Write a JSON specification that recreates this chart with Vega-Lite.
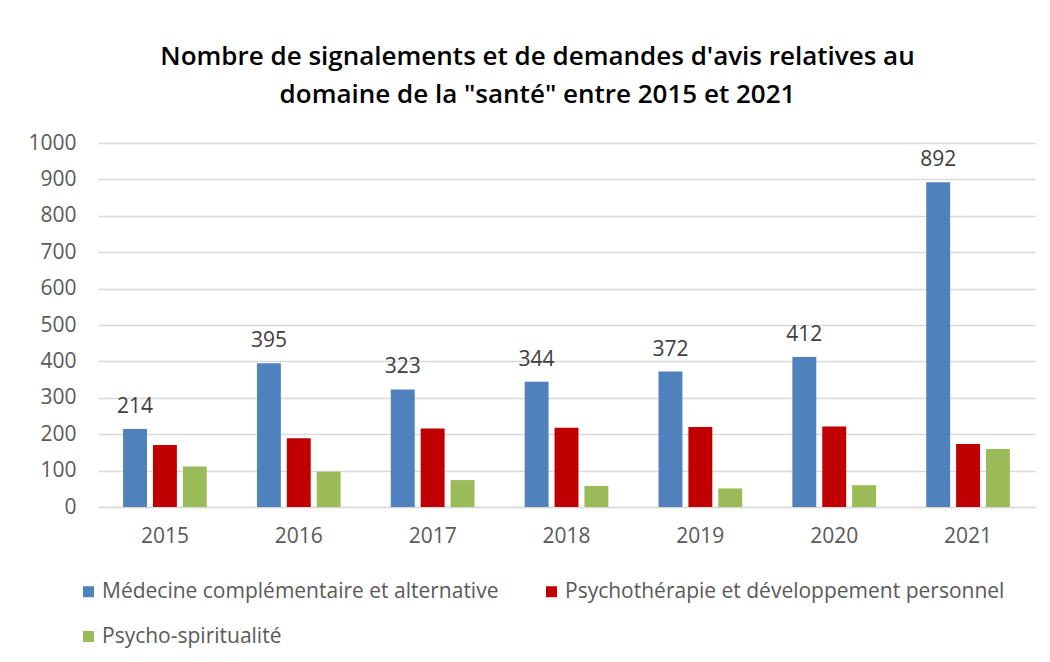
{
  "$schema": "https://vega.github.io/schema/vega-lite/v6.json",
  "width": 937,
  "height": 364,
  "autosize": "none",
  "padding": {"left": 98, "top": 143, "right": 15, "bottom": 155},
  "background": "white",
  "title": {
    "text": ["Nombre de signalements et de demandes d'avis relatives au", "domaine de la \"santé\" entre 2015 et 2021"],
    "font": "Open Sans",
    "fontSize": 26,
    "fontWeight": 600,
    "color": "#000000",
    "anchor": "middle",
    "dx": -29,
    "offset": 24,
    "lineHeight": 38
  },
  "data": {
    "values": [
      {"annee": "2015", "serie": "Médecine complémentaire et alternative", "ordre": 1, "valeur": 214},
      {"annee": "2015", "serie": "Psychothérapie et développement personnel", "ordre": 2, "valeur": 170},
      {"annee": "2015", "serie": "Psycho-spiritualité", "ordre": 3, "valeur": 111},
      {"annee": "2016", "serie": "Médecine complémentaire et alternative", "ordre": 1, "valeur": 395},
      {"annee": "2016", "serie": "Psychothérapie et développement personnel", "ordre": 2, "valeur": 189},
      {"annee": "2016", "serie": "Psycho-spiritualité", "ordre": 3, "valeur": 97},
      {"annee": "2017", "serie": "Médecine complémentaire et alternative", "ordre": 1, "valeur": 323},
      {"annee": "2017", "serie": "Psychothérapie et développement personnel", "ordre": 2, "valeur": 216},
      {"annee": "2017", "serie": "Psycho-spiritualité", "ordre": 3, "valeur": 74},
      {"annee": "2018", "serie": "Médecine complémentaire et alternative", "ordre": 1, "valeur": 344},
      {"annee": "2018", "serie": "Psychothérapie et développement personnel", "ordre": 2, "valeur": 218},
      {"annee": "2018", "serie": "Psycho-spiritualité", "ordre": 3, "valeur": 58},
      {"annee": "2019", "serie": "Médecine complémentaire et alternative", "ordre": 1, "valeur": 372},
      {"annee": "2019", "serie": "Psychothérapie et développement personnel", "ordre": 2, "valeur": 220},
      {"annee": "2019", "serie": "Psycho-spiritualité", "ordre": 3, "valeur": 51},
      {"annee": "2020", "serie": "Médecine complémentaire et alternative", "ordre": 1, "valeur": 412},
      {"annee": "2020", "serie": "Psychothérapie et développement personnel", "ordre": 2, "valeur": 221},
      {"annee": "2020", "serie": "Psycho-spiritualité", "ordre": 3, "valeur": 60},
      {"annee": "2021", "serie": "Médecine complémentaire et alternative", "ordre": 1, "valeur": 892},
      {"annee": "2021", "serie": "Psychothérapie et développement personnel", "ordre": 2, "valeur": 173},
      {"annee": "2021", "serie": "Psycho-spiritualité", "ordre": 3, "valeur": 159}
    ]
  },
  "encoding": {
    "x": {
      "field": "annee",
      "type": "nominal",
      "scale": {"paddingInner": 0.33, "paddingOuter": 0.165},
      "axis": {
        "title": null,
        "labelAngle": 0,
        "labelFont": "Open Sans",
        "labelFontSize": 21,
        "labelColor": "#595959",
        "labelPadding": 18,
        "ticks": false,
        "domainColor": "#d9d9d9",
        "domainWidth": 1.5
      }
    },
    "xOffset": {
      "field": "serie",
      "type": "nominal",
      "sort": ["Médecine complémentaire et alternative", "Psychothérapie et développement personnel", "Psycho-spiritualité"],
      "scale": {"paddingInner": 0.2, "paddingOuter": 0.1}
    },
    "y": {
      "field": "valeur",
      "type": "quantitative",
      "scale": {"domain": [0, 1000]},
      "axis": {
        "title": null,
        "format": "d",
        "values": [0, 100, 200, 300, 400, 500, 600, 700, 800, 900, 1000],
        "labelFont": "Open Sans",
        "labelFontSize": 21,
        "labelColor": "#595959",
        "labelPadding": 22,
        "ticks": false,
        "domain": false,
        "gridColor": "#d9d9d9",
        "gridWidth": 1.5
      }
    }
  },
  "layer": [
    {
      "mark": {"type": "bar"},
      "encoding": {
        "color": {
          "field": "serie",
          "type": "nominal",
          "sort": ["Médecine complémentaire et alternative", "Psychothérapie et développement personnel", "Psycho-spiritualité"],
          "scale": {
            "domain": ["Médecine complémentaire et alternative", "Psychothérapie et développement personnel", "Psycho-spiritualité"],
            "range": ["#4f81bd", "#c00000", "#9bbb59"]
          },
          "legend": {
            "title": null,
            "orient": "none",
            "legendX": -20,
            "legendY": 438,
            "direction": "horizontal",
            "columns": 2,
            "columnPadding": 42,
            "rowPadding": 23,
            "symbolType": "square",
            "symbolSize": 121,
            "symbolStrokeWidth": 0,
            "labelFont": "Open Sans",
            "labelFontSize": 21,
            "labelColor": "#595959",
            "labelOffset": 3,
            "labelLimit": 600
          }
        }
      }
    },
    {
      "transform": [{"filter": "datum.ordre == 1"}],
      "mark": {"type": "text", "baseline": "bottom", "dy": -12, "font": "Open Sans", "fontSize": 21, "color": "#404040"},
      "encoding": {
        "text": {"field": "valeur", "type": "quantitative"}
      }
    }
  ],
  "config": {
    "view": {"stroke": null}
  }
}
